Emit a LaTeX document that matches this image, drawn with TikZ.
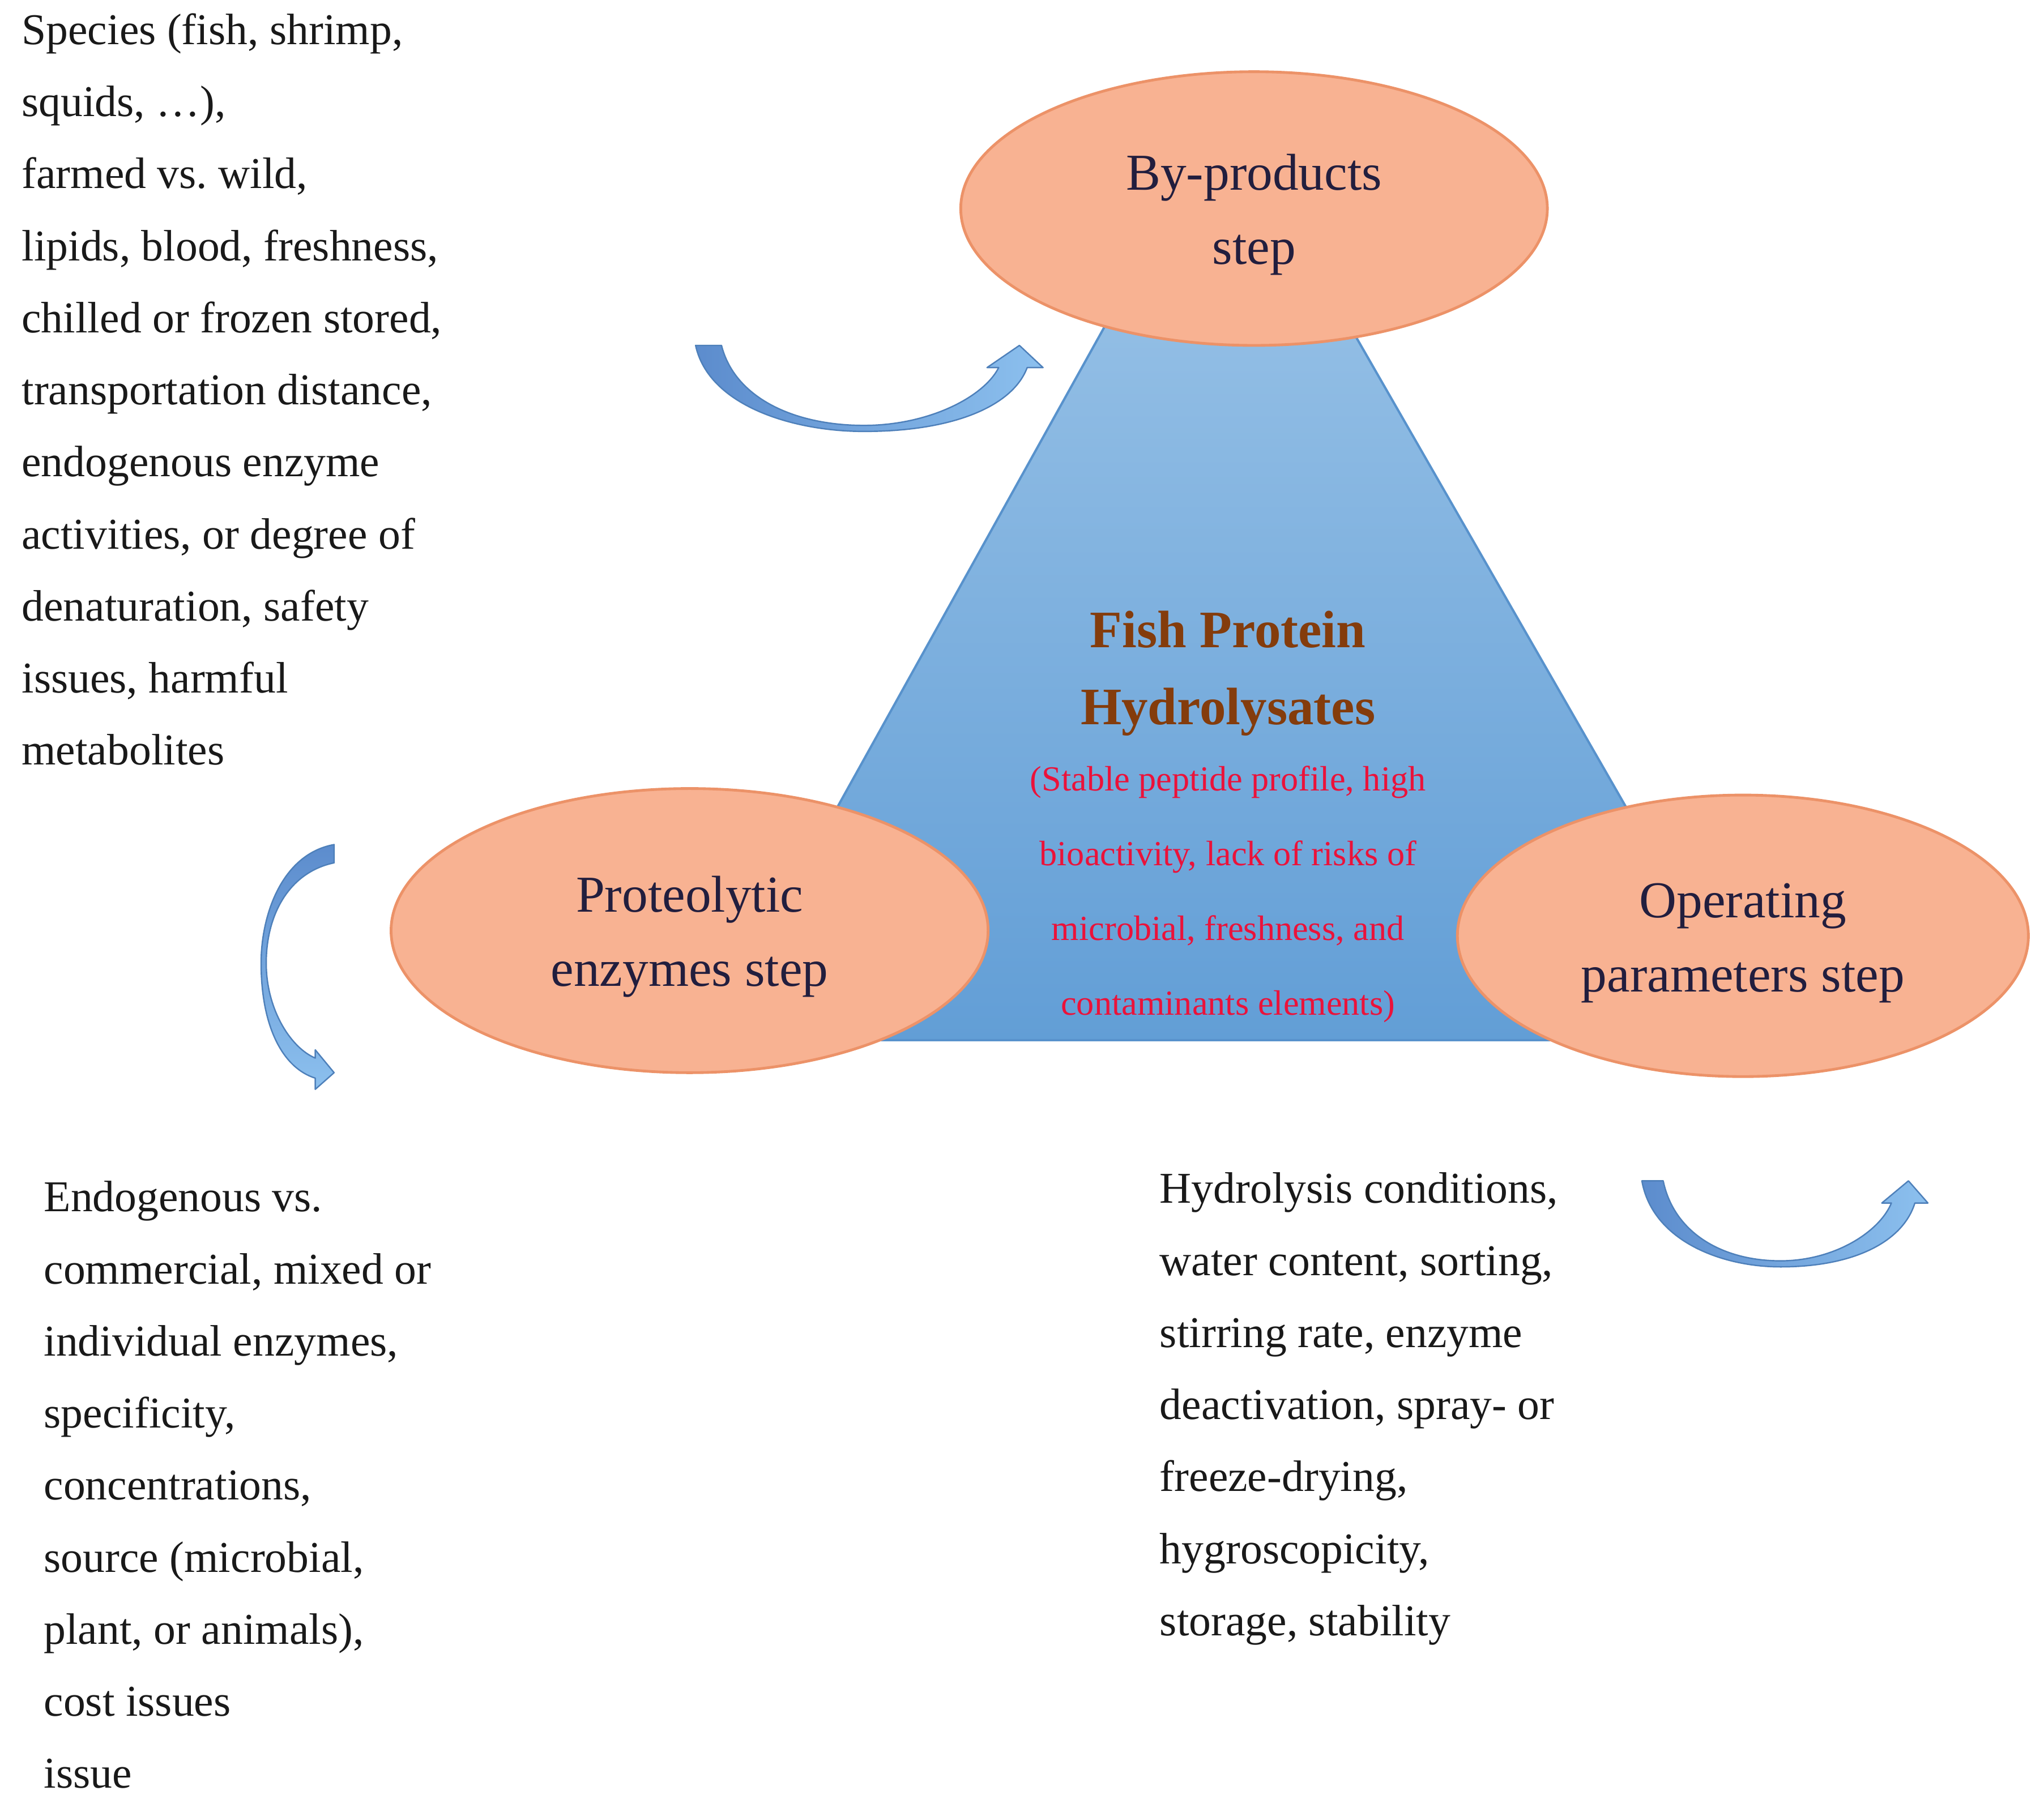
\documentclass[tikz,border=0pt]{standalone}
\usepackage{fontspec}
\setmainfont{Liberation Serif}
\usetikzlibrary{shapes.geometric,positioning}
\definecolor{ovalfill}{RGB}{248,178,146}
\definecolor{ovaledge}{RGB}{236,146,104}
\definecolor{stepink}{RGB}{34,30,62}
\definecolor{trigtop}{RGB}{160,199,233}
\definecolor{trigbot}{RGB}{98,158,214}
\definecolor{trigedge}{RGB}{88,146,204}
\definecolor{arrowdark}{RGB}{92,140,205}
\definecolor{arrowlight}{RGB}{140,192,238}
\definecolor{arrowedge}{RGB}{78,128,186}
\definecolor{fphbrown}{RGB}{132,60,12}
\definecolor{notered}{RGB}{235,18,58}
\tikzset{
  stepoval/.style={ellipse, draw=ovaledge, fill=ovalfill, line width=0.6pt,
    inner sep=0pt, align=center, text=stepink,
    font=\fontsize{11.3}{16.2}\selectfont},
  sidenote/.style={anchor=north west, inner sep=0pt, align=left,
    text=black!90, font=\fontsize{9.6}{15.73}\selectfont},
  trig/.style={draw=trigedge, line width=0.5pt,
    top color=trigtop, bottom color=trigbot},
  bendarrow/.style={draw=arrowedge, line width=0.3pt, line join=round}
}

\begin{document}
\frenchspacing
\begin{tikzpicture}[line join=round]
  \useasboundingbox (0,0) rectangle (15.68,-13.90);

  \coordinate (apex) at (9.40,-0.84);
  \coordinate (lowl) at (5.43,-7.98);
  \coordinate (lowr) at (13.50,-7.98);
  \shadedraw[trig] (apex) -- (lowl) -- (lowr) -- cycle;

  \node[stepoval, minimum width=4.50cm, minimum height=2.10cm]
    (byp) at (9.62,-1.60) {\rule{0pt}{10.6pt}By-products\\step};
  \node[stepoval, minimum width=4.58cm, minimum height=2.18cm]
    (enz) at (5.29,-7.14) {\rule{0pt}{10.6pt}Proteolytic\\enzymes step};
  \node[stepoval, minimum width=4.38cm, minimum height=2.16cm]
    (opr) at (13.37,-7.18) {\rule{0pt}{10.6pt}Operating\\parameters step};

  \node[inner sep=0pt, align=center, text=fphbrown,
    font=\fontsize{11.5}{16.8}\selectfont\bfseries]
    (fph) at (9.42,-5.165) {Fish Protein\\Hydrolysates};
  \node[below=2.2mm of fph, inner sep=0pt, align=center, text=notered,
    font=\fontsize{7.7}{16.3}\selectfont] (fphnote)
    {(Stable peptide profile, high\\bioactivity, lack of risks of\\
     microbial, freshness, and\\contaminants elements)};

  \foreach \sx/\sy/\rot/\w/\d/\ang in
    {5.336/-2.65/0/2.484/0.66/90, 12.595/-9.06/0/2.045/0.66/90,
     2.563/-6.48/-90/1.75/0.56/0} {
    \begin{scope}[shift={(\sx,\sy)}, rotate=\rot, xscale=\w, yscale=\d]
      \shadedraw[bendarrow, left color=arrowdark, right color=arrowlight,
        shading angle=\ang]
        (0,0) .. controls (0.04,-0.7) and (0.3,-1) .. (0.52,-1)
        .. controls (0.8,-1) and (0.98,-0.7) .. (1.024,-0.258)
        -- (1.073,-0.258) -- (1,0) -- (0.9,-0.258) -- (0.936,-0.258)
        .. controls (0.89,-0.6) and (0.72,-0.93) .. (0.52,-0.93)
        .. controls (0.3,-0.93) and (0.12,-0.6) .. (0.08,0) -- cycle;
    \end{scope}
  }

  \node[sidenote] (src) at (0.16,-0.096)
    {Species (fish, shrimp,\\squids, \dots),\\farmed vs. wild,\\
     lipids, blood, freshness,\\chilled or frozen stored,\\
     transportation distance,\\endogenous enzyme\\activities, or degree of\\
     denaturation, safety\\issues, harmful\\metabolites};
  \node[sidenote] (enzinfo) at (0.33,-9.056)
    {Endogenous vs.\\commercial, mixed or\\individual enzymes,\\specificity,\\
     concentrations,\\source (microbial,\\plant, or animals),\\cost issues\\issue};
  \node[sidenote] (oprinfo) at (8.89,-8.99)
    {Hydrolysis conditions,\\water content, sorting,\\stirring rate, enzyme\\
     deactivation, spray- or\\freeze-drying,\\hygroscopicity,\\storage, stability};
\end{tikzpicture}
\end{document}
